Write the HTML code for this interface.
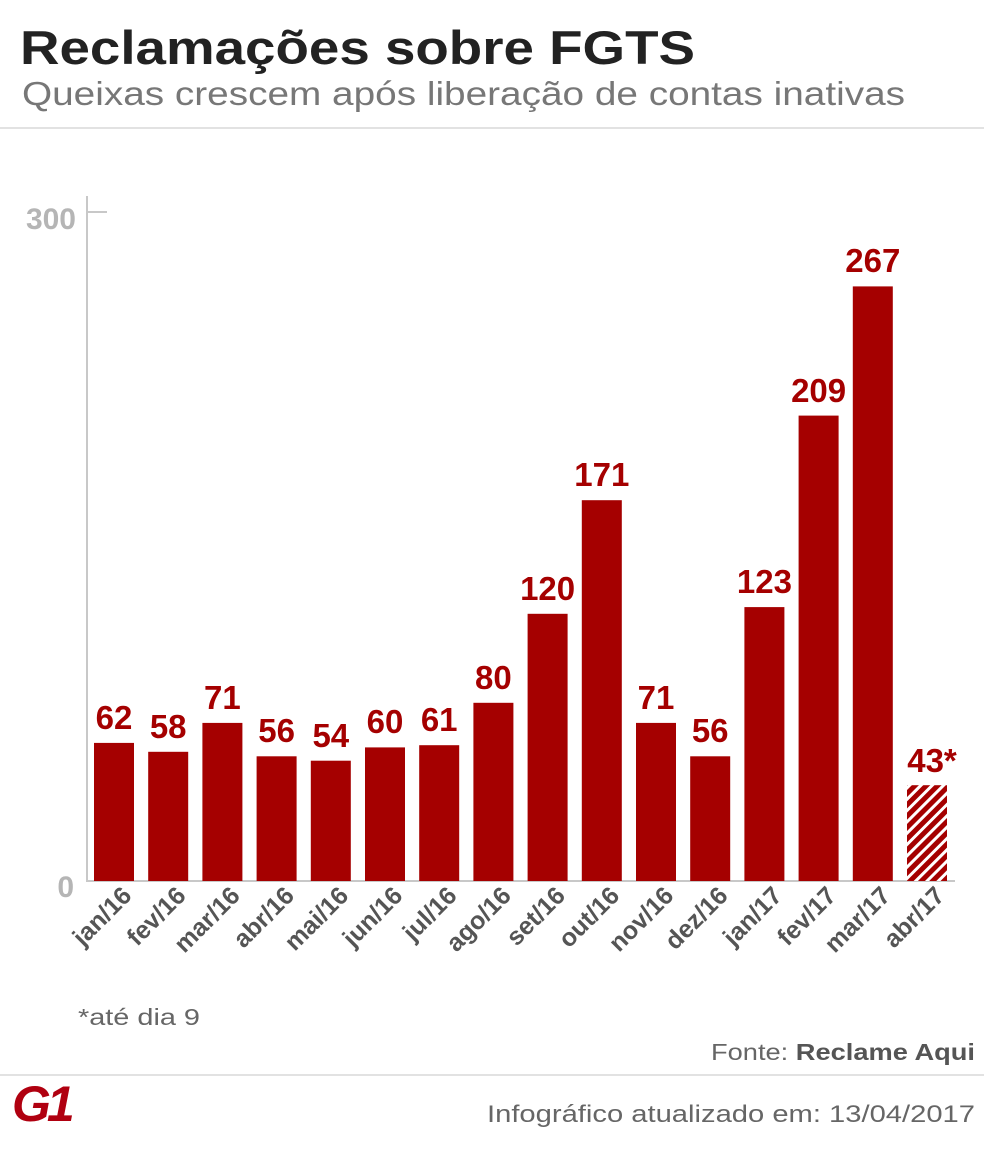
<!DOCTYPE html>
<html><head><meta charset="utf-8"><style>
body{margin:0;background:#fff;}
svg{display:block;font-family:"Liberation Sans",sans-serif;}
</style></head><body>
<svg width="984" height="1169" viewBox="0 0 984 1169">
<defs>
<pattern id="h" width="8" height="8" patternUnits="userSpaceOnUse" patternTransform="rotate(45)">
<rect width="8" height="8" fill="#fff"/><rect width="5" height="8" fill="#a50000"/>
</pattern>
</defs>
<text x="20" y="64" font-size="47" font-weight="bold" fill="#222" textLength="675" lengthAdjust="spacingAndGlyphs">Reclamações sobre FGTS</text>
<text x="22" y="105" font-size="33" fill="#777" textLength="883" lengthAdjust="spacingAndGlyphs">Queixas crescem após liberação de contas inativas</text>
<rect x="0" y="127" width="984" height="2" fill="#e2e2e2"/>
<rect x="86" y="196" width="2" height="686" fill="#c8c8c8"/>
<rect x="87" y="211" width="20" height="2" fill="#c8c8c8"/>
<rect x="87" y="880" width="868" height="2" fill="#c8c8c8"/>
<text x="76" y="229" font-size="30" font-weight="bold" fill="#b5b5b5" text-anchor="end">300</text>
<text x="74" y="897" font-size="30" font-weight="bold" fill="#b5b5b5" text-anchor="end">0</text>
<g fill="#a50000">
<rect x="94" y="742.9" width="40" height="138.1"/>
<rect x="148.2" y="751.8" width="40" height="129.2"/>
<rect x="202.4" y="722.9" width="40" height="158.1"/>
<rect x="256.6" y="756.3" width="40" height="124.7"/>
<rect x="310.8" y="760.7" width="40" height="120.3"/>
<rect x="365" y="747.4" width="40" height="133.6"/>
<rect x="419.2" y="745.2" width="40" height="135.8"/>
<rect x="473.4" y="702.8" width="40" height="178.2"/>
<rect x="527.6" y="613.8" width="40" height="267.2"/>
<rect x="581.8" y="500.2" width="40" height="380.8"/>
<rect x="636" y="722.9" width="40" height="158.1"/>
<rect x="690.2" y="756.3" width="40" height="124.7"/>
<rect x="744.4" y="607.1" width="40" height="273.9"/>
<rect x="798.6" y="415.6" width="40" height="465.4"/>
<rect x="852.8" y="286.4" width="40" height="594.6"/>
</g>
<rect x="907" y="785.2" width="40" height="95.8" fill="url(#h)"/>
<g font-size="33" font-weight="bold" fill="#a50000" text-anchor="middle">
<text x="114" y="729">62</text>
<text x="168.2" y="738">58</text>
<text x="222.4" y="709">71</text>
<text x="276.6" y="742">56</text>
<text x="330.8" y="747">54</text>
<text x="385" y="733">60</text>
<text x="439.2" y="731">61</text>
<text x="493.4" y="689">80</text>
<text x="547.6" y="600">120</text>
<text x="601.8" y="486">171</text>
<text x="656" y="709">71</text>
<text x="710.2" y="742">56</text>
<text x="764.4" y="593">123</text>
<text x="818.6" y="402">209</text>
<text x="872.8" y="272">267</text>
<text x="932" y="772">43*</text>
</g>
<g font-size="25" font-weight="bold" fill="#555" text-anchor="end">
<text transform="translate(133,897) rotate(-45)">jan/16</text>
<text transform="translate(187.2,897) rotate(-45)">fev/16</text>
<text transform="translate(241.4,897) rotate(-45)">mar/16</text>
<text transform="translate(295.6,897) rotate(-45)">abr/16</text>
<text transform="translate(349.8,897) rotate(-45)">mai/16</text>
<text transform="translate(404,897) rotate(-45)">jun/16</text>
<text transform="translate(458.2,897) rotate(-45)">jul/16</text>
<text transform="translate(512.4,897) rotate(-45)">ago/16</text>
<text transform="translate(566.6,897) rotate(-45)">set/16</text>
<text transform="translate(620.8,897) rotate(-45)">out/16</text>
<text transform="translate(675,897) rotate(-45)">nov/16</text>
<text transform="translate(729.2,897) rotate(-45)">dez/16</text>
<text transform="translate(783.4,897) rotate(-45)">jan/17</text>
<text transform="translate(837.6,897) rotate(-45)">fev/17</text>
<text transform="translate(891.8,897) rotate(-45)">mar/17</text>
<text transform="translate(946,897) rotate(-45)">abr/17</text>
</g>
<text x="78" y="1025" font-size="23" fill="#666" textLength="122" lengthAdjust="spacingAndGlyphs">*até dia 9</text>
<text x="711" y="1060" font-size="23" fill="#666" textLength="264" lengthAdjust="spacingAndGlyphs">Fonte: <tspan fill="#555" font-weight="bold">Reclame Aqui</tspan></text>
<rect x="0" y="1074" width="984" height="2" fill="#e2e2e2"/>
<text x="12" y="1121" font-size="50" font-weight="bold" fill="#b00010" font-style="italic" letter-spacing="-4">G1</text>
<text x="487" y="1122" font-size="24" fill="#666" textLength="488" lengthAdjust="spacingAndGlyphs">Infográfico atualizado em: 13/04/2017</text>
</svg>
</body></html>
